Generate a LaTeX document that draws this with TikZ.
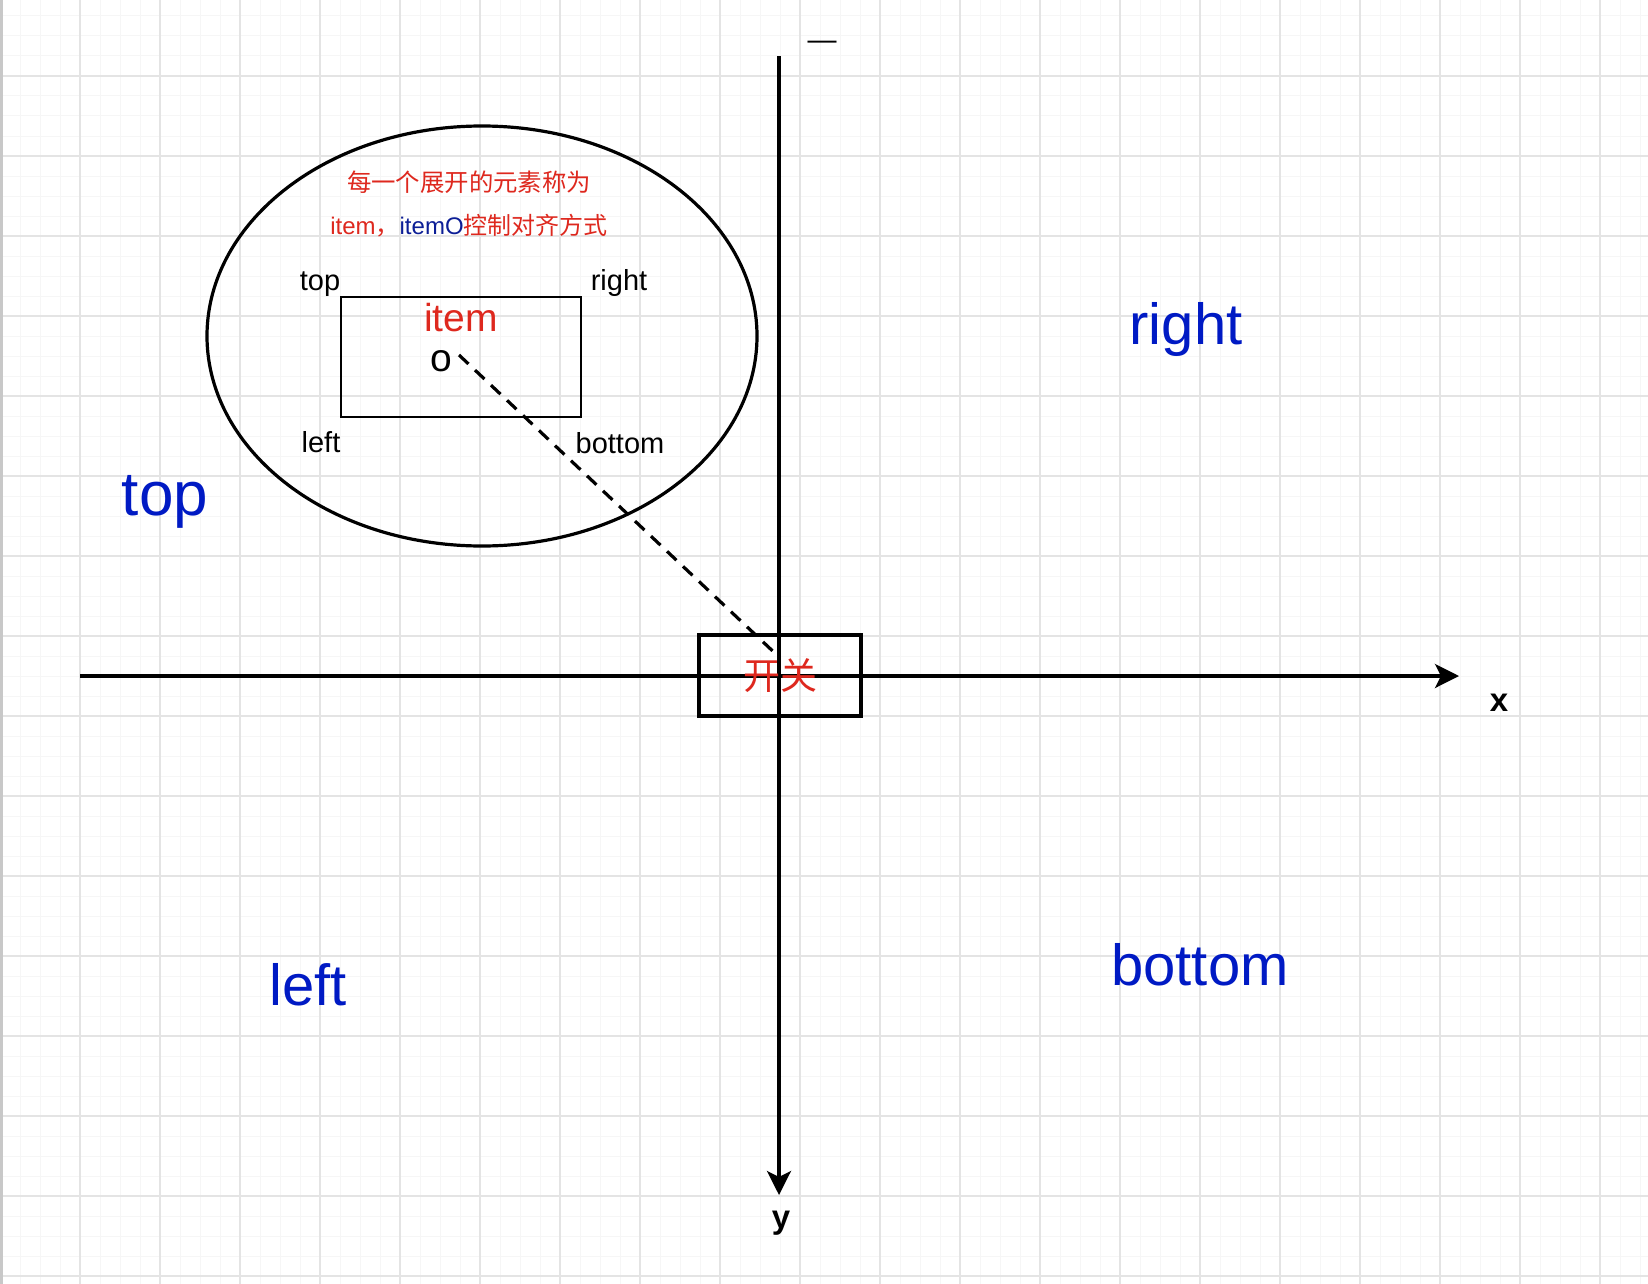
\documentclass[tikz,border=0pt]{standalone}
\usepackage{fontspec}
\setmainfont{Liberation Sans}
\newfontfamily\cjk{Noto Sans CJK SC}
\usetikzlibrary{arrows.meta}
\definecolor{redtxt}{RGB}{222,40,30}
\definecolor{bluetxt}{RGB}{0,26,196}
\definecolor{navytxt}{RGB}{12,30,150}
\definecolor{gridminor}{RGB}{246,246,246}
\definecolor{gridmajor}{RGB}{228,228,228}
\definecolor{edgegray}{RGB}{200,200,200}
\tikzset{
  bigblue/.style={text=bluetxt, inner sep=0pt, font=\fontsize{29}{32}\selectfont},
  smalllbl/.style={text=black, inner sep=0pt, font=\fontsize{14.5}{16}\selectfont},
  axislbl/.style={text=black, inner sep=0pt, font=\bfseries\fontsize{16.5}{18}\selectfont},
  axisline/.style={line width=1.7pt, -{Stealth[length=12pt,width=12pt,inset=3pt]}},
  dashline/.style={line width=1.6pt, dash pattern=on 6.5pt off 4.5pt},
  boxnode/.style={draw, inner sep=0pt},
  cjktext/.style={inner sep=0pt, font=\cjk\fontsize{12.2}{14}\selectfont}
}
\begin{document}
\begin{tikzpicture}[x=0.5pt,y=-0.5pt]
\useasboundingbox (0,0) rectangle (1648,1284);
\fill[white] (0,0) rectangle (1648,1284);
% grid
\foreach \i in {0,...,82} \draw[gridminor, line width=0.5pt] (\i*20,0) -- (\i*20,1284);
\foreach \j in {0,...,63} \draw[gridminor, line width=0.5pt] (0,16+\j*20) -- (1648,16+\j*20);
\foreach \i in {1,...,20} \draw[gridmajor, line width=0.6pt] (\i*80,0) -- (\i*80,1284);
\foreach \j in {0,...,15} \draw[gridmajor, line width=0.6pt] (0,76+\j*80) -- (1648,76+\j*80);
\fill[edgegray] (0,0) rectangle (2.5,1284);

% axes
\coordinate (xstart) at (80,676);
\coordinate (xend) at (1459,676);
\coordinate (ystart) at (779,56);
\coordinate (yend) at (779,1195);
\draw[axisline] (xstart) -- (xend);
\draw[axisline] (ystart) -- (yend);
\node[axislbl] (xlbl) at (1499,703) {x};
\node[axislbl] (ylbl) at (781,1223) {y};
\node[inner sep=0pt, font=\fontsize{14.5}{16}\selectfont] (dash) at (822,45) {—};

% switch box
\node[boxnode, line width=1.7pt, minimum width=81pt, minimum height=40.5pt,
      text=redtxt, font=\cjk\fontsize{18.5}{20}\selectfont] (switch) at (780,675.5) {开关};

% ellipse
\draw[line width=1.6pt] (482,336) ellipse [x radius=275, y radius=210];

% inner item box
\node[boxnode, line width=1pt, minimum width=120.2pt, minimum height=60pt] (itembox) at (460.8,357) {};
\node[cjktext, text=redtxt] (line1) at (469,182) {每一个展开的元素称为};
\node[inner sep=0pt, font=\fontsize{12}{14}\selectfont] (line2) at (469,226)
  {\textcolor{redtxt}{item{\cjk，}}\textcolor{navytxt}{itemO}\textcolor{redtxt}{\cjk 控制对齐方式}};
\node[inner sep=0pt, text=redtxt, font=\fontsize{19.5}{21}\selectfont] (itemlbl) at (461,318) {item};
\node[inner sep=0pt, font=\fontsize{19.5}{21}\selectfont] (o) at (441,361) {o};
\node[smalllbl] (stop) at (320,284) {top};
\node[smalllbl] (sright) at (619,283) {right};
\node[smalllbl] (sleft) at (321,442) {left};
\node[smalllbl] (sbottom) at (620,443) {bottom};

% dashed connector
\coordinate (dashstart) at (459,355);
\coordinate (dashend) at (779,657);
\draw[dashline] (dashstart) -- (dashend);

% big labels
\node[bigblue, font=\fontsize{31}{34}\selectfont] (btop) at (165,502) {top};
\node[bigblue] (bright) at (1186,330) {right};
\node[bigblue] (bleft) at (308,985) {left};
\node[bigblue] (bbottom) at (1200,965) {bottom};
\end{tikzpicture}
\end{document}
